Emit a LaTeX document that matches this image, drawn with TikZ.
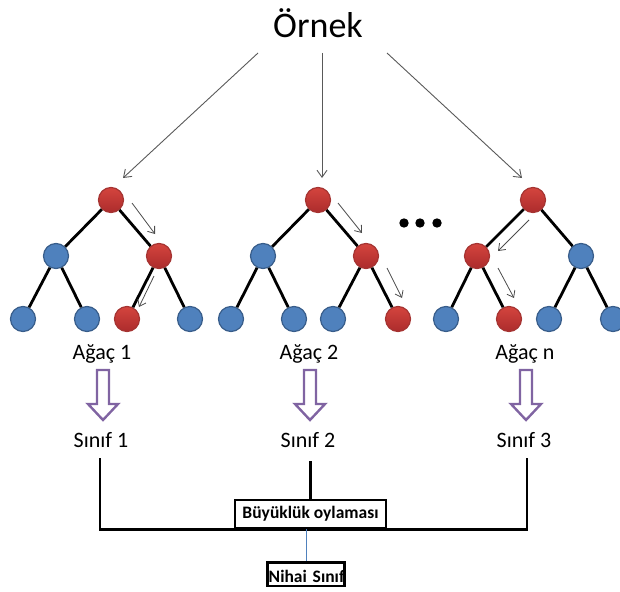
\documentclass[tikz,border=0pt]{standalone}
\usepackage{fontspec}
\setmainfont{Carlito}
\usetikzlibrary{arrows.meta,calc}

\definecolor{nodeblue}{RGB}{79,129,189}
\definecolor{nodeblueedge}{RGB}{56,93,138}
\definecolor{noderedtop}{RGB}{212,68,62}
\definecolor{noderedbot}{RGB}{172,44,44}
\definecolor{noderededge}{RGB}{165,52,50}
\definecolor{votepurple}{RGB}{128,100,162}
\definecolor{linkblue}{RGB}{79,129,189}

\tikzset{
  treenode/.style={circle, minimum size=25pt, inner sep=0pt, line width=1.2pt},
  bnode/.style={treenode, fill=nodeblue, draw=nodeblueedge},
  rnode/.style={treenode, top color=noderedtop, bottom color=noderedbot, draw=noderededge},
  branch/.style={line width=2.8pt, black},
  walk/.style={draw=black!70, line width=0.8pt, -{Straight Barb[length=6pt,width=9pt]}},
  feed/.style={draw=black!65, line width=0.9pt, -{Straight Barb[length=7pt,width=10pt]}},
  lbl/.style={font=\fontsize{22}{26}\selectfont, inner sep=0pt, anchor=base},
  votebox/.style={draw, line width=2.5pt, fill=white, inner sep=0pt,
    font=\bfseries\fontsize{17.5}{20}\selectfont},
  bus/.style={line width=2.5pt, black},
  pics/hollowdown/.style={code={
    \draw[votepurple, line width=2.4pt, line join=miter]
      (-6,0) -- (6,0) -- (6,34) -- (15,34) -- (0,50) -- (-15,34) -- (-6,34) -- cycle;}}
}

\begin{document}
\begin{tikzpicture}[x=1pt, y=-1pt]
\useasboundingbox (0,0) rectangle (620,591);

% sample
\node[font=\fontsize{36}{40}\selectfont, inner sep=0pt, anchor=base] (title) at (318,38) {Örnek};

% tree 1
\node[rnode] (t1r) at (111,200) {};
\node[bnode] (t1a) at (56,256) {};
\node[rnode] (t1b) at (159,256) {};
\node[bnode] (t1c) at (23,319) {};
\node[bnode] (t1d) at (87,319) {};
\node[rnode] (t1e) at (127,319) {};
\node[bnode] (t1f) at (190,319) {};

% tree 2
\node[rnode] (t2r) at (318,200) {};
\node[bnode] (t2a) at (263,256) {};
\node[rnode] (t2b) at (366,256) {};
\node[bnode] (t2c) at (231,319) {};
\node[bnode] (t2d) at (294,319) {};
\node[bnode] (t2e) at (333,319) {};
\node[rnode] (t2f) at (398,319) {};

% tree n
\node[rnode] (t3r) at (533,200) {};
\node[rnode] (t3a) at (477,256) {};
\node[bnode] (t3b) at (581,256) {};
\node[bnode] (t3c) at (446,319) {};
\node[rnode] (t3d) at (509,319) {};
\node[bnode] (t3e) at (549,319) {};
\node[bnode] (t3f) at (613,319) {};

% branches
\foreach \t in {1,2,3}{
  \draw[branch] (t\t r) -- (t\t a);
  \draw[branch] (t\t r) -- (t\t b);
  \draw[branch] (t\t a) -- (t\t c);
  \draw[branch] (t\t a) -- (t\t d);
  \draw[branch] (t\t b) -- (t\t e);
  \draw[branch] (t\t b) -- (t\t f);
}

% sample fed to every tree
\draw[feed] ($(title.base)+(-60,15)$) -- ($(t1r)+(12,-22)$);
\draw[feed] ($(title.base)+(4,15)$) -- ($(t2r)+(4,-22)$);
\draw[feed] ($(title.base)+(69,15)$) -- ($(t3r)+(-11,-22)$);

% decision paths
\draw[walk] ($(t1r)+(21,3)$) -- ($(t1r)+(44,34)$);
\draw[walk] ($(t1b)+(-5,20)$) -- ($(t1b)+(-20,51)$);
\draw[walk] ($(t2r)+(20,3)$) -- ($(t2r)+(44,33)$);
\draw[walk] ($(t2b)+(21,12)$) -- ($(t2b)+(36,42)$);
\draw[walk] ($(t3r)+(-4,20)$) -- ($(t3r)+(-35,51)$);
\draw[walk] ($(t3a)+(21,12)$) -- ($(t3a)+(37,42)$);

% ellipsis between trees
\foreach \x in {404,420,437}
  \fill (\x,223) circle[radius=4.7pt];

% tree labels
\node[lbl] (a1) at (102,359) {Ağaç 1};
\node[lbl] (a2) at (309,359) {Ağaç 2};
\node[lbl] (a3) at (525,359) {Ağaç n};

% tree outputs
\pic at ($(a1.base)+(1,11)$) {hollowdown};
\pic at ($(a2.base)+(1,11)$) {hollowdown};
\pic at ($(a3.base)+(1,11)$) {hollowdown};

\node[lbl] (s1) at (101,447) {Sınıf 1};
\node[lbl] (s2) at (308,447) {Sınıf 2};
\node[lbl] (s3) at (524,447) {Sınıf 3};

% voting
\node[votebox, minimum width=151pt, minimum height=28pt] (vote) at (310.5,514) {Büyüklük oylaması};
\draw[bus] ($(s1.base)+(-1,11)$) |- (vote.south) -| ($(s3.base)+(3,11)$);
\draw[bus] ($(vote.north |- s2.base)+(0,14)$) -- (vote.north);

\node[votebox, text width=77pt, align=right, text height=19pt, text depth=1.5pt,
      inner ysep=1.5pt] (final) at (306,574) {Nihai Sınıf};
\draw[linkblue, line width=0.8pt] (vote.south -| final.north) -- (final.north);
\end{tikzpicture}
\end{document}
